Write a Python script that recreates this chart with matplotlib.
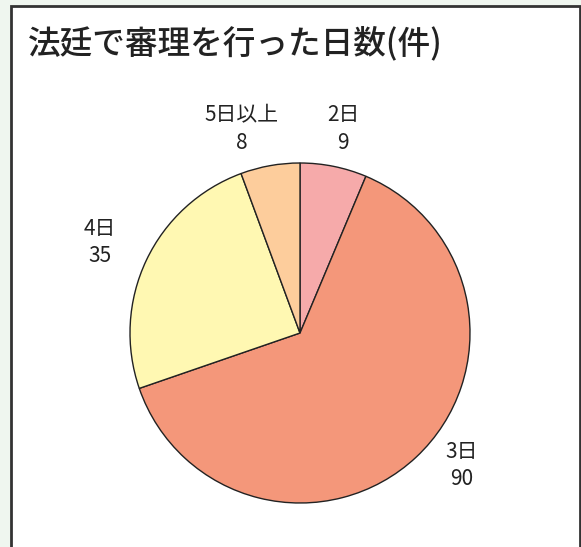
import matplotlib
matplotlib.use("Agg")
import matplotlib.pyplot as plt
from matplotlib.patches import Rectangle

plt.rcParams['font.family'] = ['Noto Sans CJK JP', 'DejaVu Sans']

title = "法廷で審理を行った日数(件)"
categories = ["2日", "3日", "4日", "5日以上"]
values = [9, 90, 35, 8]
colors = ["#F6AAAA", "#F4977A", "#FFF8B2", "#FDCD9C"]

# label anchor positions (in units of pie radius) – layout only
label_pos = [(0.253, 1.20), (0.953, -0.782), (-1.176, 0.535), (-0.341, 1.20)]

W, H = 581, 547
fig = plt.figure(figsize=(W / 100, H / 100), dpi=100)
fig.patch.set_facecolor("#EFF6EF")

# white panel
panel = Rectangle((11 / W, -0.05), (580 - 11) / W, (H - 6) / H + 0.05,
                  transform=fig.transFigure, facecolor="white",
                  edgecolor="#333333", linewidth=2.0, zorder=-5)
fig.patches.append(panel)

fig.text(28 / W, 1 - 44 / H, title, fontsize=23.5, fontweight="medium",
         color="#222222", ha="left", va="center")

cx, cy, R = 300, 333, 170
k = 1.45
ax = fig.add_axes([(cx - R * k) / W, (H - cy - R * k) / H,
                   2 * R * k / W, 2 * R * k / H])
ax.set_zorder(2)
ax.patch.set_visible(False)
ax.axis("off")

wedges, _ = ax.pie(values, colors=colors, startangle=90, counterclock=False,
                   radius=1.0,
                   wedgeprops=dict(edgecolor="#222222", linewidth=1.0))
for c, v, (x, y) in zip(categories, values, label_pos):
    ax.text(x, y, f"{c}\n{v}", fontsize=15, color="#222222",
            ha="center", va="center", linespacing=1.3)
ax.set_xlim(-k, k)
ax.set_ylim(-k, k)

fig.savefig("out.png", dpi=100, facecolor=fig.get_facecolor())
